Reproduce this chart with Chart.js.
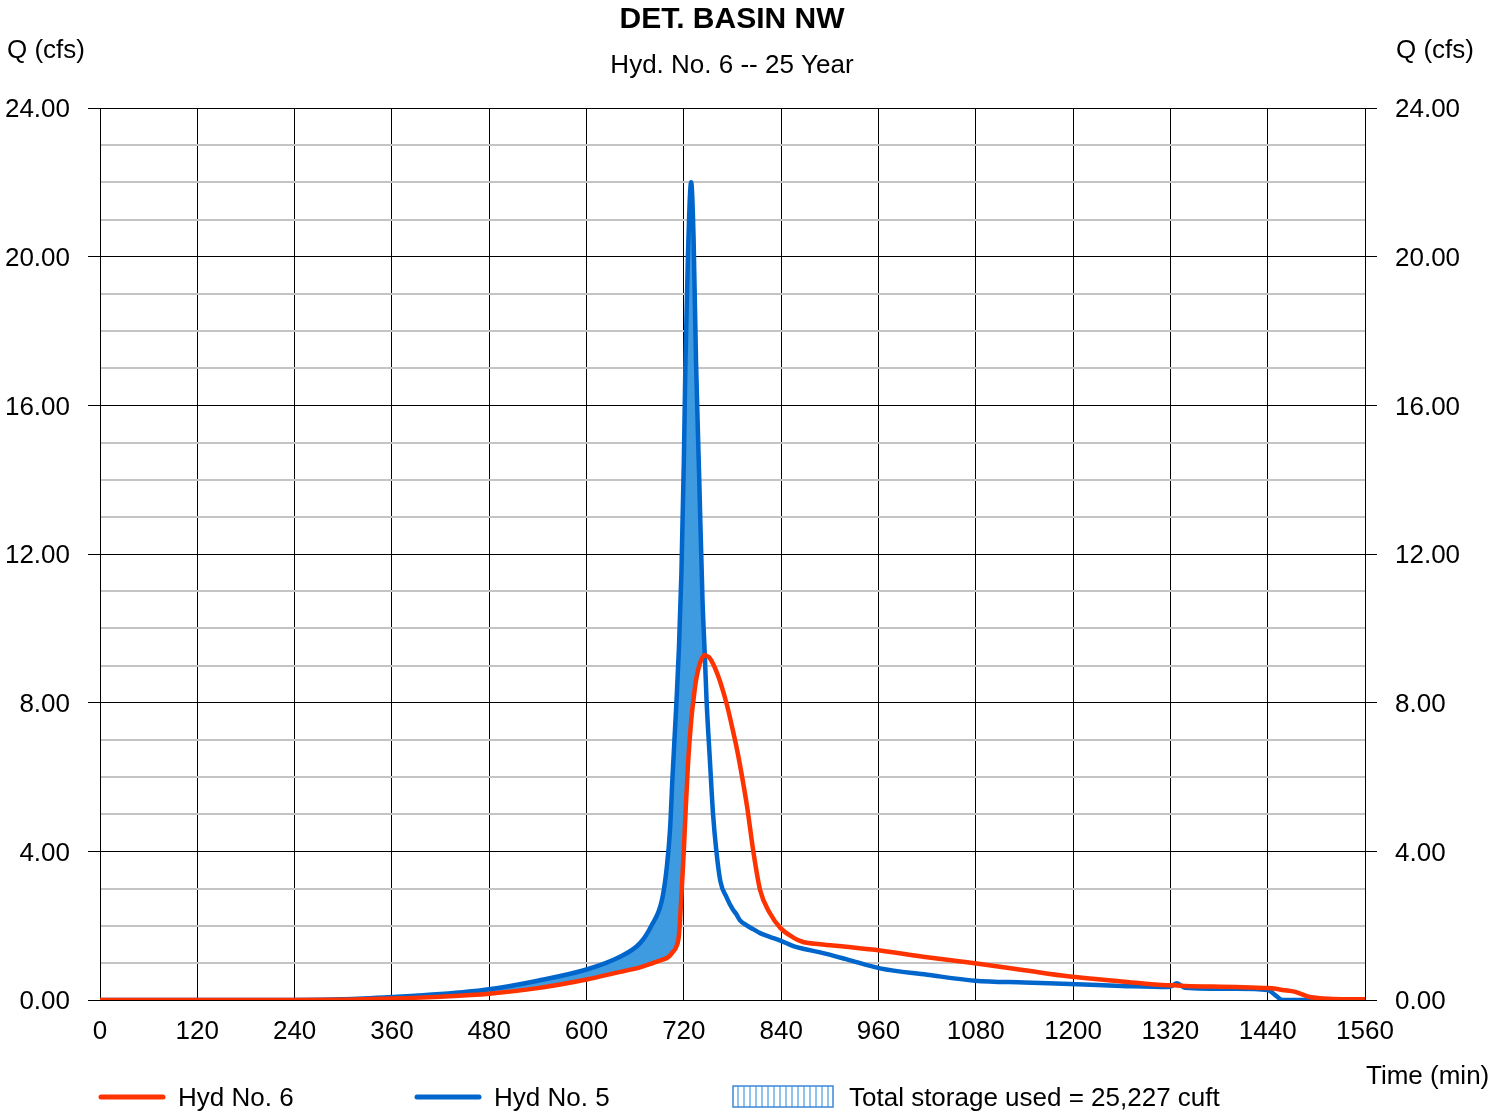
<!DOCTYPE html>
<html>
<head>
<meta charset="utf-8">
<script src="https://cdn.jsdelivr.net/npm/chart.js@4.4.0/dist/chart.umd.min.js"></script>
<style>
    html,body{margin:0;padding:0;background:#fff}
</style>
</head>
<body>
<canvas id="grafica" width="1490" height="1114"></canvas>
<script>
// tiempos (min) compartidos por ambos hidrogramas
const times = [0,120,240,300,360,420,480,540,600,640,666,680,693,699,703,706,711,714,717,720,
    722,725,729,732,735,739,743,746,748,752,756,760,765,773,780,785,789,798,806,814,
    826,839,855,867,888,920,962,1020,1079,1140,1196,1260,1317,1322,1328,1338,1400,1440,1450,1458,
    1474,1492,1520,1560]
// Hyd No. 6 (salida, rojo)
const hyd_6 = [0,0,0,0.01,0.04,0.09,0.17,0.32,0.55,0.75,0.88,0.98,1.08,1.13,1.2,1.28,1.45,1.75,2.8,4.03,
    5.0,6.3,7.5,8.1,8.6,9.0,9.22,9.28,9.26,9.2,9.05,8.85,8.55,7.95,7.3,6.8,6.35,5.2,3.95,2.96,
    2.34,1.94,1.68,1.56,1.5,1.43,1.33,1.15,0.99,0.8,0.63,0.5,0.4,0.4,0.39,0.38,0.35,0.32,0.3,0.27,
    0.22,0.08,0.03,0.02]
// Hyd No. 5 (entrada, azul)
const hyd_5 = [0,0,0,0.02,0.08,0.16,0.29,0.52,0.82,1.15,1.53,2.0,2.69,3.58,4.6,6.0,8.07,9.5,11.5,14.5,
    17.2,20.0,22.0,20.5,17.2,14.0,10.76,9.2,8.07,6.5,5.0,4.03,3.2,2.75,2.45,2.3,2.15,2.0,1.9,1.8,
    1.7,1.6,1.45,1.38,1.28,1.1,0.85,0.68,0.52,0.47,0.43,0.38,0.35,0.38,0.45,0.33,0.30,0.27,0.12,0,
    0,0,0,0]
// etiquetas de ejes
const x_ticks = [0,120,240,360,480,600,720,840,960,1080,1200,1320,1440,1560]
const y_major = [0,4,8,12,16,20,24]

const color_red = '#ff3300'
const color_blue = '#0066cc'
const color_fill = '#3f9be0'
const font_family = '"Liberation Sans", Arial, sans-serif'

window.addEventListener('load',()=>{
    const canvas = document.getElementById('grafica')
    Chart.defaults.font.family = font_family
    Chart.defaults.font.size = 26
    Chart.defaults.color = '#000'

    const es_mayor = v => y_major.includes(v)

    //textos, titulos y leyenda
    const textos = {
        id:'textos',
        afterDraw(chart){
            const ctx = chart.ctx
            ctx.save()
            ctx.fillStyle = '#000'
            ctx.textBaseline = 'alphabetic'
            ctx.textAlign = 'center'
            ctx.font = 'bold 30px ' + font_family
            ctx.fillText('DET. BASIN NW',732,28)
            ctx.font = '26px ' + font_family
            ctx.fillText('Hyd. No. 6 -- 25 Year',732,73)
            ctx.textAlign = 'left'
            ctx.fillText('Q (cfs)',7,58)
            ctx.fillText('Q (cfs)',1396,58)
            ctx.fillText('Time (min)',1366,1084)

            // leyenda
            ctx.lineWidth = 5
            ctx.lineCap = 'round'
            ctx.strokeStyle = color_red
            ctx.beginPath(); ctx.moveTo(101,1097); ctx.lineTo(163,1097); ctx.stroke()
            ctx.strokeStyle = color_blue
            ctx.beginPath(); ctx.moveTo(417,1097); ctx.lineTo(479,1097); ctx.stroke()
            ctx.fillText(chart.data.datasets[0].label,178,1106)
            ctx.fillText(chart.data.datasets[1].label,494,1106)

            ctx.fillStyle = '#8ec4ef'
            for(let x=737;x<832;x+=6){
                ctx.fillRect(x,1086,2,21)
            }
            ctx.lineWidth = 1.5
            ctx.lineCap = 'butt'
            ctx.strokeStyle = '#3a88d8'
            ctx.strokeRect(733,1086,100,21)
            ctx.fillStyle = '#000'
            ctx.fillText('Total storage used = 25,227 cuft',849,1106)
            ctx.restore()
        }
    }

    const grid_y = {
        color: c => es_mayor(c.tick.value) ? '#000' : '#c4c4c4',
        lineWidth: c => es_mayor(c.tick.value) ? 1 : 2,
        tickColor: c => es_mayor(c.tick.value) ? '#000' : 'rgba(0,0,0,0)',
        tickWidth: 1,
        tickLength: 12
    }

    new Chart(canvas.getContext('2d'),{
        type:'line',
        data:{
            datasets:[
                {
                    label:'Hyd No. 6',
                    data: times.map((t,i)=>({x:t,y:hyd_6[i]})),
                    borderColor: color_red,
                    borderWidth: 4.5,
                    pointRadius: 0,
                    cubicInterpolationMode: 'monotone',
                    fill: false
                },
                {
                    label:'Hyd No. 5',
                    data: times.map((t,i)=>({x:t,y:hyd_5[i]})),
                    borderColor: color_blue,
                    borderWidth: 4.5,
                    pointRadius: 0,
                    cubicInterpolationMode: 'monotone',
                    fill: {target:0, above:color_fill, below:'rgba(0,0,0,0)'}
                }
            ]
        },
        options:{
            responsive:false,
            animation:false,
            devicePixelRatio:1,
            layout:{padding:{top:108,left:0,right:0,bottom:0}},
            plugins:{
                legend:{display:false},
                tooltip:{enabled:false}
            },
            scales:{
                x:{
                    type:'linear',
                    min:0,
                    max:1560,
                    afterFit: s => { s.height = 114 },
                    afterBuildTicks: s => { s.ticks = x_ticks.map(v=>({value:v})) },
                    ticks:{
                        autoSkip:false,
                        maxRotation:0,
                        padding:16,
                        callback: v => String(v)
                    },
                    grid:{color:'#000',lineWidth:1,drawTicks:false},
                    border:{display:true,color:'#000'}
                },
                y:{
                    position:'left',
                    min:0,
                    max:24,
                    z:-1,
                    afterFit: s => { s.width = 100 },
                    ticks:{
                        stepSize:1,
                        autoSkip:false,
                        padding:18,
                        labelOffset:2,
                        callback: v => es_mayor(v) ? v.toFixed(2) : ''
                    },
                    grid: grid_y,
                    border:{display:true,color:'#000'}
                },
                y2:{
                    position:'right',
                    min:0,
                    max:24,
                    afterFit: s => { s.width = 125 },
                    ticks:{
                        stepSize:1,
                        autoSkip:false,
                        padding:18,
                        labelOffset:2,
                        callback: v => es_mayor(v) ? v.toFixed(2) : ''
                    },
                    grid: Object.assign({},grid_y,{drawOnChartArea:false}),
                    border:{display:true,color:'#000'}
                }
            }
        },
        plugins:[textos]
    })
})
</script>
</body>
</html>
